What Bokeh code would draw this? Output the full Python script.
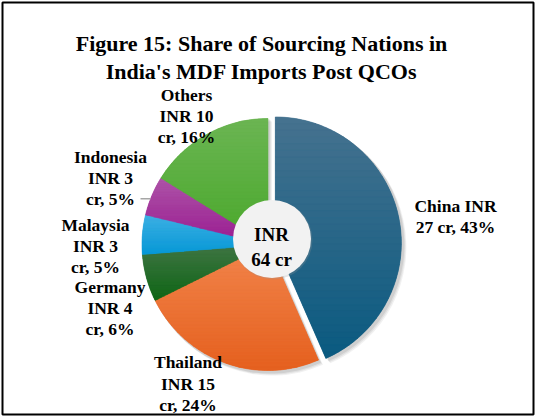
import numpy as np
from bokeh.plotting import figure
from bokeh.models import Range1d
from bokeh.core.properties import value
from bokeh.embed import file_html
from bokeh.resources import INLINE

# ---------------- data ----------------
countries = ["China", "Thailand", "Germany", "Malaysia", "Indonesia", "Others"]
inr_cr = [27, 15, 4, 3, 3, 10]
share_pct = [43, 24, 6, 5, 5, 16]
total_cr = 64
title_lines = ["Figure 15: Share of Sourcing Nations in", "India's MDF Imports Post QCOs"]

# ---------------- style / layout ----------------
colors = ["#22658A", "#EE6F2D", "#236B2A", "#19A2DC", "#A12C99", "#57AD3B"]
top_colors = ["#46728F", "#F2844C", "#427646", "#40B1E4", "#AE55A8", "#6BB553"]
bot_colors = ["#0A5A80", "#E5611F", "#0F6616", "#0798D6", "#9A1C91", "#4AA82B"]
W, H = 536, 418
FONT = value("Liberation Serif")


def px(x):  # page x -> data x
    return x


def py(y):  # page y -> data y (y up)
    return H - y


def hex2rgb(h):
    h = h.lstrip("#")
    return np.array([int(h[i:i + 2], 16) for i in (0, 2, 4)], dtype=float)


def mix(c1, c2, t):
    c = hex2rgb(c1) * (1 - t) + hex2rgb(c2) * t
    return "#%02x%02x%02x" % tuple(int(round(v)) for v in c)


def clip_half(poly, y0, keep_above):
    out = []
    n = len(poly)
    for i in range(n):
        P, Q = poly[i], poly[(i + 1) % n]
        inP = P[1] >= y0 if keep_above else P[1] <= y0
        inQ = Q[1] >= y0 if keep_above else Q[1] <= y0
        if inP:
            out.append(P)
        if inP != inQ:
            t = (y0 - P[1]) / (Q[1] - P[1])
            out.append((P[0] + t * (Q[0] - P[0]), y0))
    return out


p = figure(width=W, height=H, x_range=Range1d(0, W), y_range=Range1d(0, H),
           output_backend="svg", toolbar_location=None, min_border=0)
p.axis.visible = False
p.grid.visible = False
p.outline_line_color = None
p.background_fill_color = "white"
p.border_fill_color = "white"

# frame
p.quad(left=[px(2)], right=[px(533)], bottom=[py(414)], top=[py(2)],
       fill_color=None, line_color="black", line_width=2)

# title
for i, t in enumerate(title_lines):
    p.text(x=[px(261)], y=[py(42.7 + i * 27.8)], text=[t], text_font=FONT,
           text_font_style="bold", text_font_size=value("22px"),
           text_align="center", text_baseline="alphabetic", text_color="black")

# pie geometry
cx, cy, R = px(267.5), py(244), 126
explode = 7.5
frac = np.array(share_pct, dtype=float) / sum(share_pct)
cw_end = np.cumsum(frac) * 360.0
cw_start = cw_end - frac * 360.0

xs, ys, starts, ends = [], [], [], []
for i in range(len(countries)):
    off = explode if i == 0 else 0.0
    mid = np.radians((cw_start[i] + cw_end[i]) / 2)
    xs.append(cx + off * np.sin(mid))
    ys.append(cy + off * np.cos(mid))
    starts.append(np.radians(90 - cw_end[i]))
    ends.append(np.radians(90 - cw_start[i]))

# soft shadow
for dd, a in [(4, 0.12), (3, 0.15), (2, 0.2)]:
    p.wedge(x=[x + dd for x in xs], y=[y - dd for y in ys], radius=R + 1,
            radius_units="screen", start_angle=starts, end_angle=ends,
            direction="anticlock", fill_color="#888888", fill_alpha=a,
            line_color=None)

# base wedges (solid)
p.wedge(x=xs, y=ys, radius=R, radius_units="screen", start_angle=starts,
        end_angle=ends, direction="anticlock", fill_color=colors,
        line_color=None)

# vertical gradient overlay built from bands of each slice
band_xs, band_ys, band_cols = [], [], []
NB = 36
for i in range(len(countries)):
    th = np.linspace(starts[i], ends[i], 120)
    poly = [(xs[i], ys[i])] + [(xs[i] + R * np.cos(t), ys[i] + R * np.sin(t)) for t in th]
    ymin = min(q[1] for q in poly)
    ymax = max(q[1] for q in poly)
    edges = np.linspace(ymax, ymin, NB + 1)
    for b in range(NB):
        hi, lo = edges[b], edges[b + 1]
        piece = clip_half(clip_half(poly, lo, True), hi, False)
        if len(piece) < 3:
            continue
        band_xs.append([q[0] for q in piece])
        band_ys.append([q[1] for q in piece])
        band_cols.append(mix(top_colors[i], bot_colors[i], (b + 0.5) / NB))
p.patches(xs=band_xs, ys=band_ys, fill_color=band_cols, line_color=band_cols,
          line_width=0.6)

# centre circle
p.circle(x=[px(271.5) + 1], y=[py(238.5) - 1], radius=39.5, radius_units="screen",
         fill_color="#999999", fill_alpha=0.25, line_color=None)
p.circle(x=[px(271.5)], y=[py(238.5)], radius=39, radius_units="screen",
         fill_color="#F2F2F2", line_color=None)
for i, t in enumerate(["INR", f"{total_cr} cr"]):
    p.text(x=[px(271)], y=[py(234.3 + i * 24.7)], text=[t], text_font=FONT,
           text_font_style="bold", text_font_size=value("19px"),
           text_align="center", text_baseline="alphabetic", text_color="black")

# slice labels
label_pos = {  # page x centre, first baseline
    "China": (455, 205),
    "Thailand": (187.5, 361.7),
    "Germany": (109.5, 286),
    "Malaysia": (95, 224),
    "Indonesia": (110, 156),
    "Others": (186, 94),
}
for c, v, s in zip(countries, inr_cr, share_pct):
    if c == "China":
        lines = [f"{c} INR", f"{v} cr, {s}%"]
    else:
        lines = [c, f"INR {v}", f"cr, {s}%"]
    lx, ly = label_pos[c]
    for j, t in enumerate(lines):
        p.text(x=[px(lx)], y=[py(ly + j * 21.3)], text=[t], text_font=FONT,
               text_font_style="bold", text_font_size=value("17.5px"),
               text_align="center", text_baseline="alphabetic",
               text_color="black")

# leader line for Indonesia
p.line(x=[px(140), px(150)], y=[py(198.3), py(198.3)], line_color="#A6A6A6",
       line_width=1.5)

open("out.html", "w").write(file_html(p, INLINE))
